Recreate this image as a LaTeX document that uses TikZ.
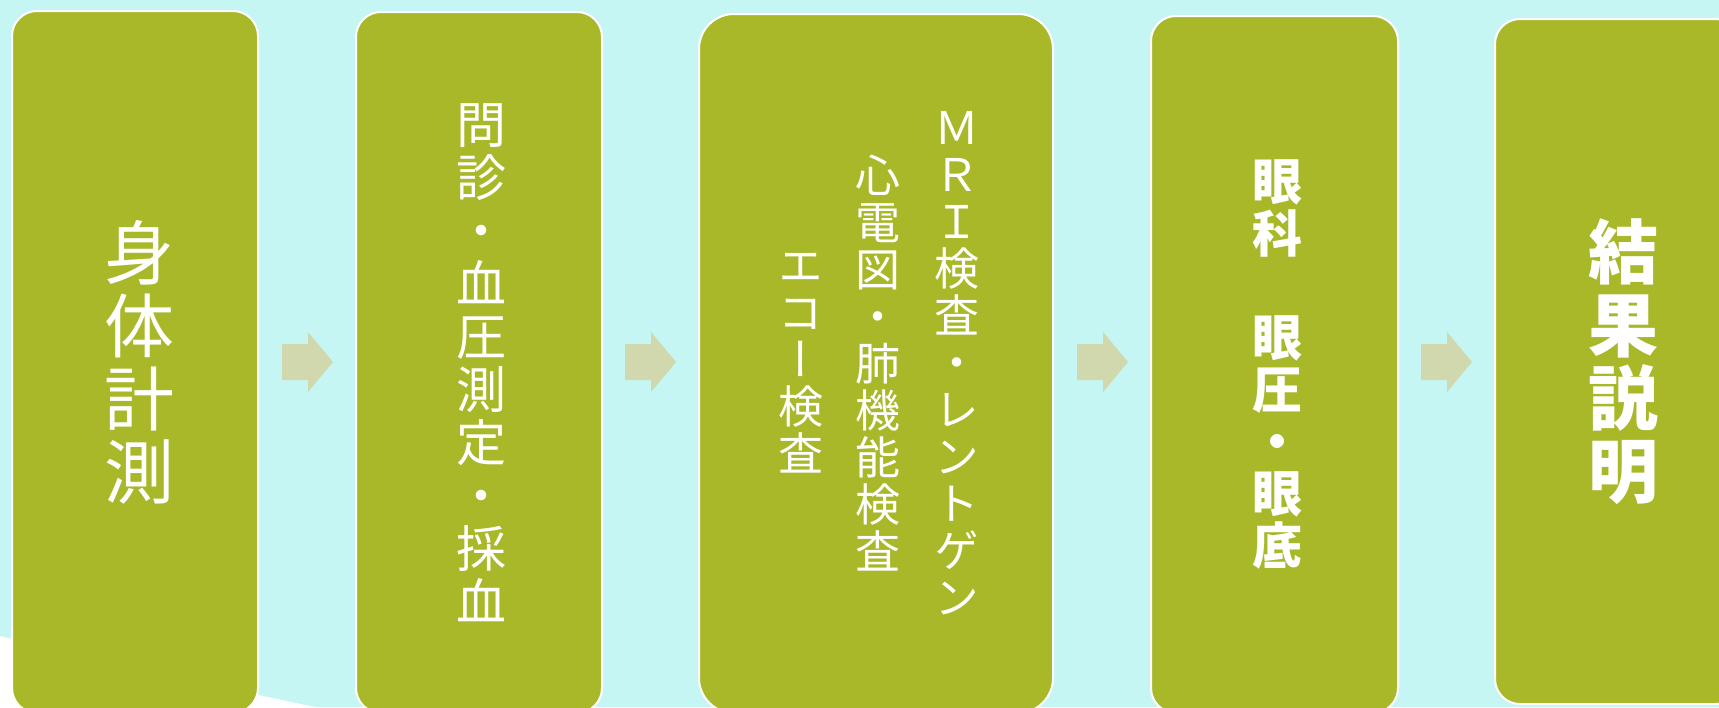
\documentclass[tikz,border=0pt]{standalone}
\usepackage{fontspec}
\newfontfamily\jpfont[RawFeature=+vert]{Noto Sans CJK JP}
\definecolor{bgcyan}{HTML}{C6F6F3}
\definecolor{boxgreen}{HTML}{A8B829}
\definecolor{arrowkhaki}{HTML}{D1D8AD}
\tikzset{
	stepbox/.style={draw=white, line width=2pt, fill=boxgreen, rounded corners=#1, anchor=north west, inner sep=0pt},
	stepbox/.default=25pt,
	vtext/.style n args={2}{text=white, align=center, inner sep=0pt, font=\jpfont\fontsize{#1}{#2}\selectfont},
	vbold/.style n args={2}{vtext={#1}{#2}, font=\jpfont\bfseries\fontsize{#1}{#2}\selectfont},
	flowarrow/.style={fill=arrowkhaki, draw=none}
}
\begin{document}
\begin{tikzpicture}[x=1pt, y=-1pt]
	\useasboundingbox (0,0) rectangle (1719,707);
	\clip (0,0) rectangle (1719,707);
	\fill[bgcyan] (0,0) rectangle (1719,707);
	\fill[white] (0,636) .. controls (110,662) and (230,690) .. (340,712) -- (0,712) -- cycle;
	% boxes
	\node[stepbox, minimum width=246pt, minimum height=702pt] (b1) at (11,10) {};
	\node[stepbox, minimum width=246pt, minimum height=701pt] (b2) at (355,11) {};
	\node[stepbox=35pt, minimum width=354pt, minimum height=699pt] (b3) at (698,13) {};
	\node[stepbox, minimum width=247pt, minimum height=697pt] (b4) at (1150,15) {};
	\node[stepbox, minimum width=246pt, minimum height=685pt] (b5) at (1494,18) {};
	% arrows
	\foreach \x in {282,625,1077,1421}
		\fill[flowarrow] (\x,344) -- ++(26,0) -- ++(0,-12) -- ++(25,30) -- ++(-25,30) -- ++(0,-12) -- ++(-26,0) -- cycle;
	% texts
	\node[vtext={70}{73}] (t1) at ([xshift=4pt]b1.center) {身\\体\\計\\測};
	\node[vtext={50}{53}] (t2) at ([xshift=2pt]b2.center) {問\\診\\・\\血\\圧\\測\\定\\・\\採\\血};
	\node[vtext={45}{47}] (t3a) at ([xshift=81pt]b3.center) {Ｍ\\Ｒ\\Ｉ\\検\\査\\・\\レ\\ン\\ト\\ゲ\\ン};
	\node[vtext={45}{47}] (t3b) at ([xshift=2pt]b3.center) {心\\電\\図\\・\\肺\\機\\能\\検\\査};
	\node[vtext={45}{47}] (t3c) at ([xshift=-75pt]b3.center) {エ\\コ\\ー\\検\\査};
	\node[vbold={50}{52}] (t4) at ([xshift=3pt]b4.center) {眼\\科\\　\\眼\\圧\\・\\眼\\底};
	\node[vbold={70}{73}] (t5) at ([xshift=5pt]b5.center) {結\\果\\説\\明};
\end{tikzpicture}
\end{document}
